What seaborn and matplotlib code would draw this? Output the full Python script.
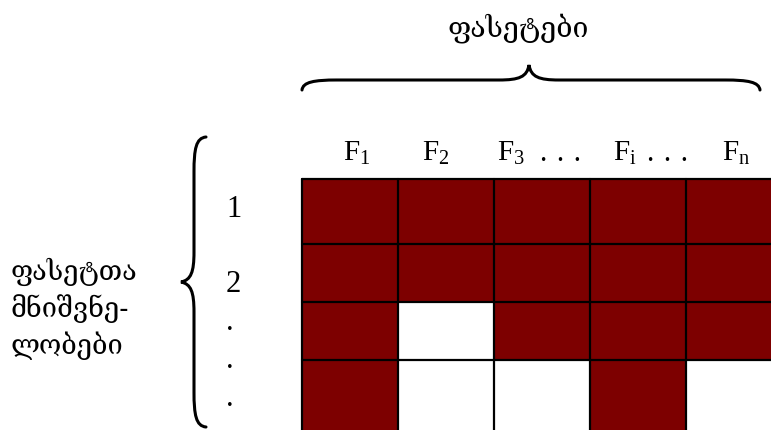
import numpy as np
import matplotlib
matplotlib.use("Agg")
import matplotlib.pyplot as plt
from matplotlib.colors import ListedColormap
from matplotlib.path import Path
from matplotlib.patches import PathPatch
import seaborn as sns

# ---- data ----
col_labels = [r"$\mathrm{F}_{1}$", r"$\mathrm{F}_{2}$", r"$\mathrm{F}_{3}$",
              r"$\mathrm{F}_{\mathrm{i}}$", r"$\mathrm{F}_{\mathrm{n}}$"]
gap_label = ".\u00a0\u200a.\u00a0\u200a."
row_labels = ["1", "2", ".", ".", "."]
cells = [
    [1, 1, 1, 1, 1],
    [1, 1, 1, 1, 1],
    [1, 0, 1, 1, 1],
    [1, 0, 0, 1, 0],
]
top_title = "ფასეტები"
left_title = "ფასეტთა\nმნიშვნე-\nლობები"

# ---- layout (pixels) ----
W, H = 771, 430
row_px = [65, 58, 58, 75]
col_px = 96
grid_left, grid_top = 302, 179

sns.set_theme(style="white")
plt.rcParams["font.family"] = ["Liberation Serif", "DejaVu Serif"]
plt.rcParams["mathtext.fontset"] = "custom"
plt.rcParams["mathtext.rm"] = "Liberation Serif"
plt.rcParams["mathtext.it"] = "Liberation Serif:italic"

fig = plt.figure(figsize=(W / 100, H / 100), dpi=100)
fig.patch.set_facecolor("white")

# overlay axes in pixel coordinates
ov = fig.add_axes([0, 0, 1, 1])
ov.set_xlim(0, W)
ov.set_ylim(H, 0)
ov.axis("off")

# heatmap grid
grid_h = sum(row_px)
ax = fig.add_axes([grid_left / W, (H - grid_top - grid_h) / H,
                   len(cells[0]) * col_px / W, grid_h / H])
mat = np.repeat(np.array(cells), row_px, axis=0)
cmap = ListedColormap(["white", "#7d0000"])
sns.heatmap(mat, ax=ax, cmap=cmap, vmin=0, vmax=1, cbar=False,
            linewidths=0, xticklabels=False, yticklabels=False)
bounds = np.concatenate([[0], np.cumsum(row_px)[:-1]])
for y in bounds:
    ax.axhline(y, color="black", lw=1.6, clip_on=False)
for x in range(len(cells[0]) + 1):
    ax.axvline(x, color="black", lw=1.6, clip_on=False)

# column labels (left edge positions in px)
col_x = [343, 422, 497, 613, 722]
for lab, x in zip(col_labels, col_x):
    ov.text(x, 161, lab, fontsize=21, ha="left", va="baseline", color="black")
for x in [540, 647]:
    ov.text(x, 161, gap_label, fontsize=21, ha="left", va="baseline",
            color="black")

# row labels
row_y = [217, 292, 330, 368, 406]
for lab, y in zip(row_labels, row_y):
    ov.text(226, y, lab, fontsize=22, ha="left", va="baseline", color="black")

# titles
geo = ["DejaVu Serif", "DejaVu Sans"]
ov.text(518, 28, top_title, fontsize=20.5, ha="center", va="center",
        family=geo, color="black")
ov.text(11, 309, left_title, fontsize=19.5, ha="left", va="center",
        family=geo, color="black", linespacing=1.37)


def hbrace(ax, x0, x1, xm, y_end, y_line, y_tip):
    verts = [(x0, y_end),
             (x0 + 1, y_line + 2), (x0 + 12, y_line), (x0 + 35, y_line),
             (xm - 30, y_line),
             (xm - 10, y_line), (xm - 2, y_line - 3), (xm, y_tip),
             (xm + 2, y_line - 3), (xm + 10, y_line), (xm + 30, y_line),
             (x1 - 35, y_line),
             (x1 - 12, y_line), (x1 - 1, y_line + 2), (x1, y_end)]
    codes = [Path.MOVETO, Path.CURVE4, Path.CURVE4, Path.CURVE4,
             Path.LINETO, Path.CURVE4, Path.CURVE4, Path.CURVE4,
             Path.CURVE4, Path.CURVE4, Path.CURVE4, Path.LINETO,
             Path.CURVE4, Path.CURVE4, Path.CURVE4]
    ax.add_patch(PathPatch(Path(verts, codes), fill=False, lw=2.2,
                           edgecolor="black", capstyle="round"))


def vbrace(ax, y0, y1, ym, x_end, x_line, x_tip):
    verts = [(x_end, y0),
             (x_line + 2, y0 + 1), (x_line, y0 + 12), (x_line, y0 + 35),
             (x_line, ym - 30),
             (x_line, ym - 10), (x_line - 3, ym - 2), (x_tip, ym),
             (x_line - 3, ym + 2), (x_line, ym + 10), (x_line, ym + 30),
             (x_line, y1 - 35),
             (x_line, y1 - 12), (x_line + 2, y1 - 1), (x_end, y1)]
    codes = [Path.MOVETO, Path.CURVE4, Path.CURVE4, Path.CURVE4,
             Path.LINETO, Path.CURVE4, Path.CURVE4, Path.CURVE4,
             Path.CURVE4, Path.CURVE4, Path.CURVE4, Path.LINETO,
             Path.CURVE4, Path.CURVE4, Path.CURVE4]
    ax.add_patch(PathPatch(Path(verts, codes), fill=False, lw=2.2,
                           edgecolor="black", capstyle="round"))


hbrace(ov, 302, 760, 529, 90, 80, 65)
vbrace(ov, 137, 427, 282, 206, 194, 181)

fig.savefig("out.png", dpi=100, facecolor="white")
